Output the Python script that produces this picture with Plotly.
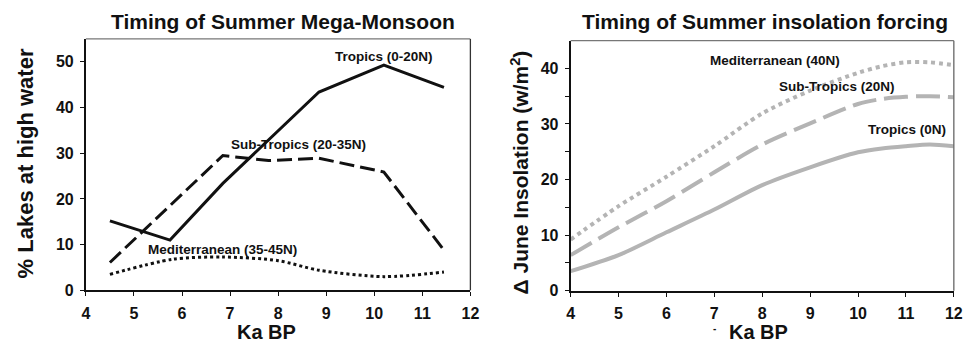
import plotly.graph_objects as go

W, H = 973, 351

# --- Left panel: % lakes at high water (Ka BP)
lake_x_trop = [4.5, 5.75, 6.85, 8.85, 10.2, 11.45]
lake_trop = [15.2, 11.0, 23.4, 43.4, 49.3, 44.4]
lake_x_sub = [4.5, 6.85, 7.8, 8.85, 10.2, 11.45]
lake_sub = [6.1, 29.5, 28.4, 28.9, 25.9, 8.8]
lake_x_med = [4.5, 5.8, 6.85, 8.0, 8.85, 10.2, 11.45]
lake_med = [3.5, 6.8, 7.3, 6.5, 4.4, 3.0, 4.0]

# --- Right panel: June insolation anomaly (W/m2)
ins_x = [4, 5, 6, 7, 8, 9, 10, 10.5, 11, 11.5, 12]
ins_trop = [3.5, 6.4, 10.5, 14.6, 19.0, 22.2, 24.9, 25.6, 26.0, 26.3, 26.0]
ins_sub = [6.4, 11.4, 16.1, 21.3, 26.3, 30.1, 33.6, 34.5, 34.9, 35.0, 34.8]
ins_med = [9.2, 15.2, 20.5, 26.0, 31.9, 36.0, 39.2, 40.4, 41.1, 41.1, 40.6]

ticks_x = [4, 5, 6, 7, 8, 9, 10, 11, 12]
ticks_y_lake = [0, 10, 20, 30, 40, 50]
ticks_y_ins = [0, 10, 20, 30, 40]

FONT = "Arial, Liberation Sans, sans-serif"
BLACK = "#111111"
GREY = "#b4b4b4"

fig = go.Figure()

# left panel traces
fig.add_trace(go.Scatter(x=lake_x_trop, y=lake_trop, mode="lines",
                         line=dict(color=BLACK, width=3), xaxis="x", yaxis="y"))
fig.add_trace(go.Scatter(x=lake_x_sub, y=lake_sub, mode="lines",
                         line=dict(color=BLACK, width=3, dash="15px,6px"),
                         xaxis="x", yaxis="y"))
fig.add_trace(go.Scatter(x=lake_x_med, y=lake_med, mode="lines",
                         line=dict(color=BLACK, width=3, dash="3px,3px",
                                   shape="spline", smoothing=0.8),
                         xaxis="x", yaxis="y"))

# right panel traces
fig.add_trace(go.Scatter(x=ins_x, y=ins_trop, mode="lines",
                         line=dict(color=GREY, width=4, shape="spline", smoothing=0.8),
                         xaxis="x2", yaxis="y2"))
fig.add_trace(go.Scatter(x=ins_x, y=ins_sub, mode="lines",
                         line=dict(color=GREY, width=4, dash="24px,8px",
                                   shape="spline", smoothing=0.8),
                         xaxis="x2", yaxis="y2"))
fig.add_trace(go.Scatter(x=ins_x, y=ins_med, mode="lines",
                         line=dict(color=GREY, width=4, dash="4px,4px",
                                   shape="spline", smoothing=0.8),
                         xaxis="x2", yaxis="y2"))

tickfont = dict(family=FONT, size=16, color=BLACK, weight=700)
axis_common = dict(showgrid=False, zeroline=False, ticks="outside", ticklen=4,
                   tickwidth=1.2, tickcolor=BLACK, linecolor=BLACK, linewidth=2,
                   showline=True, mirror=False, tickfont=tickfont,
                   ticklabelstandoff=3, fixedrange=True)


def bold(vals):
    return ["<b>%d</b>" % v for v in vals]


xd1 = [83 / W, 472.7 / W]
yd1 = [1 - 298 / H, 1 - 40 / H]
xd2 = [574.3 / W, 962.7 / W]
yd2 = [1 - 298.3 / H, 1 - 41.7 / H]

fig.update_layout(
    width=W, height=H,
    margin=dict(l=0, r=0, t=0, b=0),
    paper_bgcolor="white", plot_bgcolor="white",
    showlegend=False,
    font=dict(family=FONT, color=BLACK),
    xaxis=dict(domain=xd1, range=[4, 12], tickvals=ticks_x, ticktext=bold(ticks_x),
               anchor="y", **axis_common),
    yaxis=dict(domain=yd1, range=[0, 55], tickvals=ticks_y_lake,
               ticktext=bold(ticks_y_lake), anchor="x", **axis_common),
    xaxis2=dict(domain=xd2, range=[4, 12], tickvals=ticks_x, ticktext=bold(ticks_x),
                anchor="y2", **axis_common),
    yaxis2=dict(domain=yd2, range=[0, 45], tickvals=ticks_y_ins,
                ticktext=bold(ticks_y_ins), anchor="x2",
                minor=dict(tickvals=[5, 15, 25, 35], ticks="outside", ticklen=4,
                           tickcolor=BLACK),
                **axis_common),
)

# top and right frame edges, lighter than the main axes
for xd, yd, col in [(xd1, yd1, "#333333"), (xd2, yd2, "#666666")]:
    fig.add_shape(type="line", xref="paper", yref="paper", x0=xd[0], x1=xd[1],
                  y0=yd[1], y1=yd[1], line=dict(color="#777777", width=1.2))
    fig.add_shape(type="line", xref="paper", yref="paper", x0=xd[1], x1=xd[1],
                  y0=yd[0], y1=yd[1], line=dict(color=col, width=1.3))


def px_ann(text, x, y, size, **kw):
    fig.add_annotation(text=text, x=x / W, y=1 - y / H, xref="paper", yref="paper",
                       showarrow=False, xanchor="center", yanchor="middle",
                       font=dict(family=FONT, size=size, color=BLACK), **kw)


# panel titles
px_ann("<b>Timing of Summer Mega-Monsoon</b>", 283, 22, 21)
px_ann("<b>Timing of Summer insolation forcing</b>", 771, 22, 21)

# axis titles
px_ann("<b>Ka BP</b>", 266, 341, 20)
px_ann("<b>Ka BP</b>", 765, 341, 20)
px_ann("<b>-</b>", 720, 337, 10)
px_ann("<b>% Lakes at high water</b>", 22, 168, 22, textangle=-90)
px_ann("<b>\u0394 June Insolation (w/m<sup>2</sup>)</b>", 523, 177, 21, textangle=-90)

# series labels
px_ann("<b>Tropics (0-20N)</b>", 385, 58, 13.5)
px_ann("<b>Sub-Tropics (20-35N)</b>", 298, 148, 13.5)
px_ann("<b>Mediterranean (35-45N)</b>", 221, 256, 13.5)
px_ann("<b>Mediterranean (40N)</b>", 781, 62, 13.5)
px_ann("<b>Sub-Tropics (20N)</b>", 844, 89, 13.5)
px_ann("<b>Tropics (0N)</b>", 915, 133, 13.5)

fig.write_html("out.html")
